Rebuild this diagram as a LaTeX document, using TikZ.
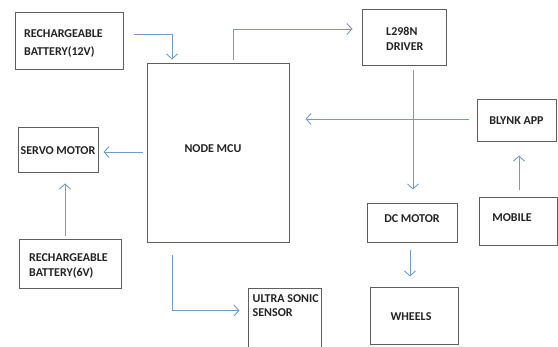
\documentclass[tikz,border=0pt]{standalone}
\usepackage{fontspec}
\setmainfont{Carlito}
\usetikzlibrary{arrows.meta}
\definecolor{arrowblue}{RGB}{115,155,200}
\definecolor{boxgray}{RGB}{95,95,95}
\definecolor{txtgray}{RGB}{35,35,35}
\begin{document}
\begin{tikzpicture}[x=1pt,y=-1pt,
  box/.style={draw=boxgray, line width=1pt, inner sep=0pt, font=\bfseries\fontsize{12}{14.5}\selectfont, text=txtgray, align=center},
  txt/.style={inner sep=0pt, font=\bfseries\fontsize{12}{14.5}\selectfont, text=txtgray, align=left},
  arr/.style={draw=arrowblue, line width=0.9pt, -{Straight Barb[length=5pt,width=11pt]}}]
\clip (0,0) rectangle (558,347);
\fill[white] (0,0) rectangle (558,347);
% boxes
\node[box, minimum width=108pt, minimum height=57pt] (bat12) at (69,41.5) {};
\node[txt, anchor=west, font=\bfseries\fontsize{12}{18}\selectfont] (bat12t) at (24,43) {RECHARGEABLE\\BATTERY(12V)};
\node[box, minimum width=142pt, minimum height=179pt] (mcu) at (218,153.5) {};
\node[txt] (mcut) at (213,149) {NODE MCU};
\node[box, minimum width=84pt, minimum height=56pt] (l298) at (404,38) {};
\node[txt, anchor=west] (l298t) at (386,39) {L298N\\DRIVER};
\node[box, minimum width=79pt, minimum height=42pt] (blynk) at (516.5,121) {BLYNK APP};
\node[box, minimum width=78pt, minimum height=48pt] (mobile) at (518,222) {};
\node[txt] (mobilet) at (512,218) {MOBILE};
\node[box, minimum width=80pt, minimum height=45pt] (servo) at (58,150.5) {SERVO MOTOR};
\node[box, minimum width=102pt, minimum height=49pt] (bat6) at (70,264.5) {};
\node[txt, anchor=west] (bat6t) at (29,266) {RECHARGEABLE\\BATTERY(6V)};
\node[box, minimum width=90pt, minimum height=39pt] (dc) at (412,223.5) {};
\node[txt] (dct) at (412,219) {DC MOTOR};
\node[box, minimum width=88pt, minimum height=57pt] (wheels) at (414,316.5) {};
\node[txt] (wheelst) at (411,317) {WHEELS};
\node[box, minimum width=73pt, minimum height=64pt] (ultra) at (284.5,321) {};
\node[txt, anchor=north west] (ultrat) at (252.5,294) {ULTRA SONIC\\SENSOR};
% connectors
\draw[arr] ([xshift=10pt,yshift=7.5pt]bat12.east) -| ([xshift=-46pt,yshift=4pt]mcu.north);
\draw[arr] ([xshift=15pt,yshift=3pt]mcu.north) |- ([xshift=-9pt,yshift=9pt]l298.west);
\draw[arr] ([xshift=9pt,yshift=-4pt]l298.south) -- ([xshift=1pt,yshift=14pt]dc.north);
\path ([xshift=-8pt,yshift=2pt]blynk.west) coordinate (b1);
\draw[arr] (b1) -- ([xshift=16pt]mcu.east |- b1);
\draw[arr] ([xshift=1pt,yshift=7pt]mobile.north) -- ([xshift=2.5pt,yshift=-13pt]blynk.south);
\draw[arr] ([xshift=-4pt,yshift=1.5pt]mcu.west) -- ([xshift=5pt,yshift=-1.5pt]servo.east);
\draw[arr] ([xshift=-5pt,yshift=3pt]bat6.north) -- ([xshift=7pt,yshift=-10pt]servo.south);
\draw[arr] ([xshift=-46pt,yshift=-12pt]mcu.south) |- ([xshift=-8pt,yshift=10.5pt]ultra.west);
\draw[arr] ([xshift=-2pt,yshift=-7pt]dc.south) -- ([xshift=-4pt,yshift=11pt]wheels.north);
\end{tikzpicture}
\end{document}
